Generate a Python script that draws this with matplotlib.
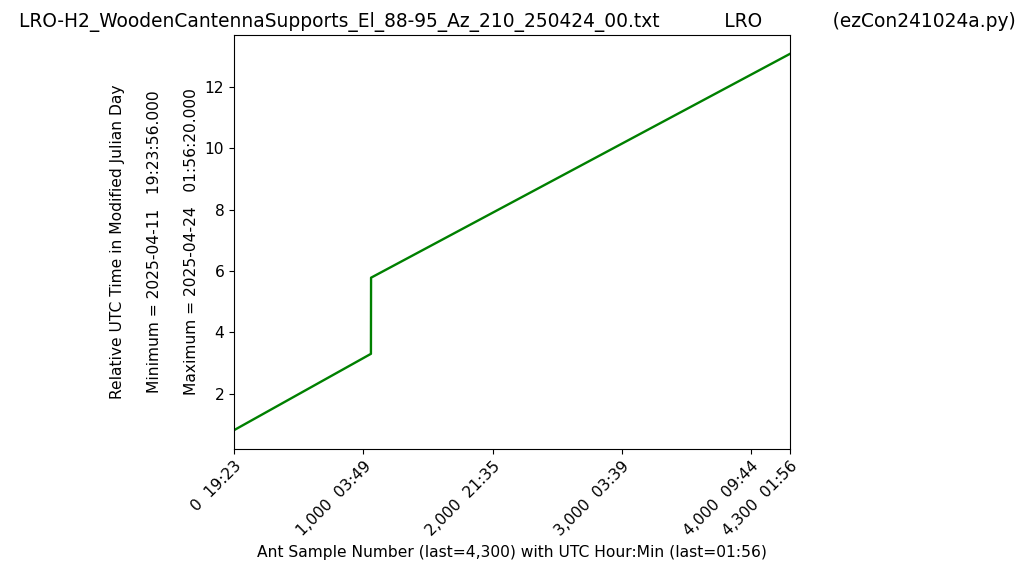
import numpy as np
import matplotlib
matplotlib.use("Agg")
import matplotlib.pyplot as plt

# line vertices: sample number vs relative UTC time (days since 2025-04-11 00:00)
sampleN = [0, 1059, 1060, 4300]
relTime = [0.8083, 3.298, 5.781, 13.081]

tickSamples = [0, 1000, 2000, 3000, 4000, 4300]
tickHourMin = ["19:23", "03:49", "21:35", "03:39", "09:44", "01:56"]

fileName = "LRO-H2_WoodenCantennaSupports_El_88-95_Az_210_250424_00.txt"
titleText = fileName + "           LRO            (ezCon241024a.py)"
ylabelText = ("Relative UTC Time in Modified Julian Day\n\n"
              "Minimum = 2025-04-11   19:23:56.000\n\n"
              "Maximum = 2025-04-24   01:56:20.000")
xlabelText = "Ant Sample Number (last=4,300) with UTC Hour:Min (last=01:56)"

plt.rcParams["font.size"] = 11.2

fig = plt.figure(figsize=(10.24, 5.75), dpi=100)
ax = fig.add_axes([234/1024, 1 - 449/575, (790-234)/1024, (449-35)/575])

ax.plot(sampleN, relTime, color="green", linewidth=1.7)
ax.set_xlim(sampleN[0], sampleN[-1])

labels = ["{:,}  {}".format(n, t) for n, t in zip(tickSamples, tickHourMin)]
ax.set_xticks(tickSamples)
ax.set_xticklabels(labels, rotation=45, ha="right", rotation_mode="anchor")
ax.tick_params(labelsize=11.2)

ax.set_title(titleText, fontsize=13.4, x=0.51)
ax.set_ylabel(ylabelText, fontsize=11.2, linespacing=1.3)
ax.set_xlabel(xlabelText, fontsize=11.2)

plt.savefig("out.png", dpi=100)
